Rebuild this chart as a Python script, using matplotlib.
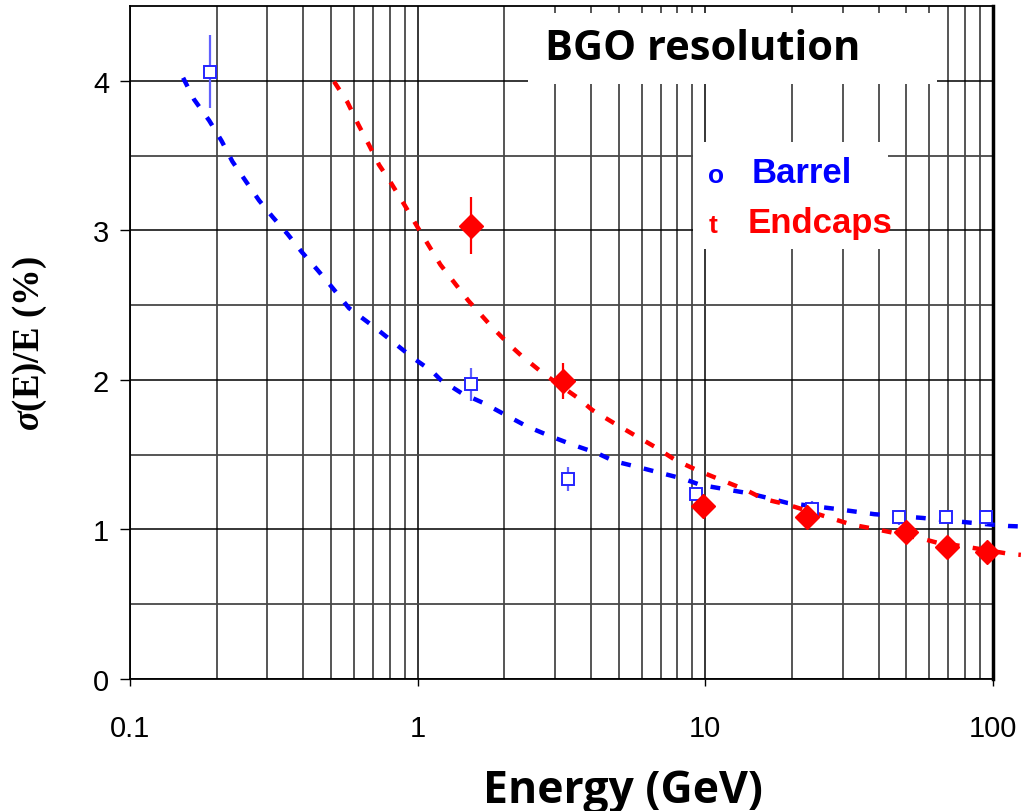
import matplotlib
matplotlib.use("Agg")
import matplotlib.pyplot as plt
from matplotlib.patches import Rectangle
from matplotlib.ticker import FixedLocator, FixedFormatter, NullFormatter

# measured points (energy in GeV, resolution in %)
barrel_e = [0.19, 1.53, 3.34, 9.3, 23.5, 47.2, 68.7, 94.6]
barrel_res = [4.06, 1.97, 1.34, 1.24, 1.14, 1.08, 1.08, 1.08]
barrel_err = [0.245, 0.11, 0.08, 0.04, 0.05, 0.05, 0.04, 0.05]

endcap_e = [1.53, 3.21, 9.84, 22.6, 49.9, 69.2, 95.3]
endcap_res = [3.03, 1.99, 1.16, 1.08, 0.98, 0.88, 0.85]
endcap_err = [0.19, 0.12, 0.03, 0.03, 0.03, 0.03, 0.03]

# fitted curves
barrel_fit_e = [0.153, 0.167, 0.1885, 0.208, 0.227, 0.253, 0.281, 0.313, 0.353,
                0.396, 0.449, 0.507, 0.577, 0.715, 0.963, 1.125, 1.202,
                1.422, 1.699, 2.01, 2.404, 2.897, 3.472, 4.183, 4.831, 5.867,
                6.98, 8.41, 9.61, 11.57, 14.13, 17.05, 19.31, 28.5, 34.5, 38.7,
                56.8, 76.8, 92.5, 113, 125]
barrel_fit_res = [4.02, 3.875, 3.734, 3.599, 3.46, 3.327, 3.2, 3.09, 2.975,
                  2.854, 2.734, 2.613, 2.48, 2.346, 2.147, 2.056, 2.0,
                  1.911, 1.844, 1.768, 1.688, 1.623, 1.565, 1.512, 1.456, 1.416,
                  1.378, 1.338, 1.298, 1.271, 1.242, 1.204, 1.177, 1.137, 1.115,
                  1.102, 1.077, 1.052, 1.037, 1.023, 1.02]

endcap_fit_e = [0.512, 0.570, 0.620, 0.677, 0.734, 0.8, 0.9, 1.0, 1.2, 1.5, 1.8,
                2.07, 2.3, 2.745, 3.614, 4.043, 4.804, 5.636, 6.708, 7.93, 9.55,
                11.48, 13.77, 15.94, 19.31, 27.9, 32.3, 38.9, 57.3, 63.8, 78.5,
                114.5, 125]
endcap_fit_res = [3.995, 3.857, 3.712, 3.572, 3.438, 3.33, 3.17, 3.02, 2.77, 2.53,
                  2.36, 2.24, 2.16, 2.04, 1.878, 1.799, 1.712, 1.634, 1.55, 1.46,
                  1.389, 1.327, 1.266, 1.204, 1.166, 1.07, 1.032, 1.003, 0.936,
                  0.912, 0.888, 0.836, 0.83]

x_ticks = [0.1, 1, 10, 100]
x_labels = ["0.1", "1", "10", "100"]
y_ticks = [0, 1, 2, 3, 4]

BLUE = "#0000ff"
RED = "#ff0000"
W, H = 1028, 812

fig = plt.figure(figsize=(W / 100, H / 100), dpi=100)
ax = fig.add_axes([130 / W, 1 - 680 / H, (993 - 130) / W, (680 - 7) / H])

ax.set_xscale("log")
ax.set_xlim(0.1, 100)
ax.set_ylim(0, 4.5)

ax.xaxis.set_major_locator(FixedLocator(x_ticks))
ax.xaxis.set_major_formatter(FixedFormatter(x_labels))
minor_x = [m * d for d in (0.1, 1, 10) for m in range(2, 10)]
ax.xaxis.set_minor_locator(FixedLocator(minor_x))
ax.xaxis.set_minor_formatter(NullFormatter())
ax.yaxis.set_major_locator(FixedLocator(y_ticks))
ax.yaxis.set_minor_locator(FixedLocator([0.5, 1.5, 2.5, 3.5]))

ax.grid(which="major", color="black", lw=1.1)
ax.grid(which="minor", color="#484848", lw=1.3)
ax.set_axisbelow(True)

ax.tick_params(axis="x", which="major", length=5, width=1, pad=20)
ax.tick_params(axis="y", which="major", length=7, width=1, pad=8)
ax.tick_params(which="minor", length=0)
for lab in ax.get_xticklabels() + ax.get_yticklabels():
    lab.set_fontfamily("Liberation Sans")
    lab.set_fontsize(21)

for s in ("left", "top", "bottom"):
    ax.spines[s].set_linewidth(1.3)
ax.spines["right"].set_linewidth(2.5)

dash = (0, (2.2, 3.0))
ax.plot(barrel_fit_e, barrel_fit_res, color=BLUE, lw=3.2, ls=dash, clip_on=False, zorder=3)
ax.plot(endcap_fit_e, endcap_fit_res, color=RED, lw=3.2, ls=dash, clip_on=False, zorder=3)

ax.errorbar(barrel_e, barrel_res, yerr=barrel_err, fmt="s", ms=8, mfc="white",
            mec="#2525ff", mew=1.4, ecolor="#6060ff", elinewidth=1.6, capsize=0,
            zorder=4, clip_on=False)
ax.errorbar(endcap_e, endcap_res, yerr=endcap_err, fmt="D", ms=12.5, mfc=RED,
            mec=RED, ecolor=RED, elinewidth=1.6, capsize=0, zorder=5, clip_on=False)

# white boxes behind the title and the legend
fig.add_artist(Rectangle((528 / W, 1 - 85 / H), (937 - 528) / W, (85 - 14) / H,
                         transform=fig.transFigure, fc="white", ec="none", zorder=2))
fig.add_artist(Rectangle((693 / W, 1 - 250 / H), (888 - 693) / W, (250 - 143) / H,
                         transform=fig.transFigure, fc="white", ec="none", zorder=2))

fig.text(703 / W, 1 - 50 / H, "BGO resolution", family="Open Sans", weight="bold",
         size=30, ha="center", va="center", zorder=3)

fig.text(716 / W, 1 - 176 / H, "o", family="Liberation Sans", weight="bold",
         size=19, color=BLUE, ha="center", va="center", zorder=3)
fig.text(752 / W, 1 - 183 / H, "Barrel", family="Liberation Sans", weight="bold",
         size=25, color=BLUE, ha="left", va="baseline", zorder=3)
fig.text(713 / W, 1 - 226 / H, "t", family="Liberation Sans", weight="bold",
         size=19, color=RED, ha="center", va="center", zorder=3)
fig.text(748 / W, 1 - 233 / H, "Endcaps", family="Liberation Sans", weight="bold",
         size=25, color=RED, ha="left", va="baseline", zorder=3)

fig.text(623 / W, 1 - 803 / H, "Energy (GeV)", family="Open Sans", weight="bold",
         size=32, ha="center", va="baseline")

plt.rcParams["mathtext.fontset"] = "custom"
plt.rcParams["mathtext.rm"] = "Liberation Serif:bold"
plt.rcParams["mathtext.it"] = "Liberation Serif:italic:bold"
plt.rcParams["mathtext.bf"] = "Liberation Serif:bold"
fig.text(30 / W, 1 - 344 / H, r"$\sigma\mathrm{(E)/E\ (\%)}$", size=26.5,
         rotation=90, ha="center", va="center")

fig.savefig("out.png", dpi=100)
plt.close(fig)
